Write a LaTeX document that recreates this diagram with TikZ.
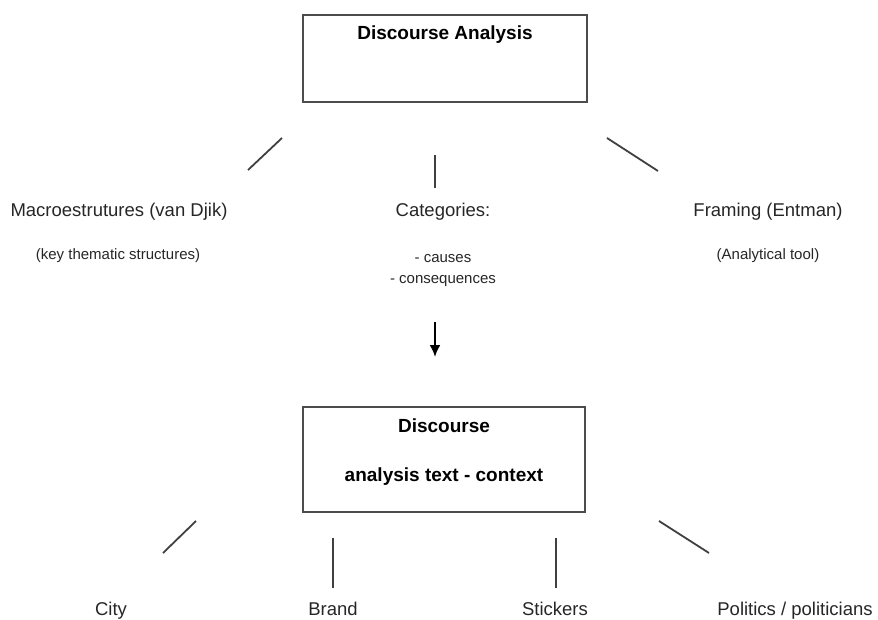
\documentclass[tikz,border=0pt]{standalone}
\usepackage{fontspec}
\setmainfont{Liberation Sans}
\usetikzlibrary{arrows.meta}
\tikzset{
  box/.style={draw=black!70, line width=1.4pt},
  lbl/.style={anchor=base, inner sep=0pt, text=black!85, font=\fontsize{18.5}{22}\selectfont},
  sml/.style={anchor=base, inner sep=0pt, text=black!85, font=\fontsize{15}{22}\selectfont},
  ttl/.style={anchor=base, inner sep=0pt, text=black, font=\fontsize{19}{22}\selectfont\bfseries},
  tick/.style={draw=black!75, line width=1.8pt},
  arr/.style={draw=black, line width=2.2pt, -{Latex[length=12pt,width=11pt]}}
}
\begin{document}
\begin{tikzpicture}[x=1pt,y=-1pt]
\useasboundingbox (0,0) rectangle (878,620);
% boxes
\draw[box] (303,15) rectangle (587,102);
\node[ttl] (t1) at (445,40) {Discourse Analysis};
\draw[box] (303,407) rectangle (585,512);
\node[ttl] (t2) at (444,432) {Discourse};
\node[ttl] (t3) at (444,481) {analysis text - context};
% middle labels
\node[lbl] (macro) at (119,217) {Macroestrutures (van Djik)};
\node[sml] (key) at (118,260) {(key thematic structures)};
\node[lbl] (cat) at (443,217) {Categories:};
\node[sml] (cau) at (443,263) {- causes};
\node[sml] (con) at (443,284) {- consequences};
\node[lbl] (fra) at (768,217) {Framing (Entman)};
\node[sml] (ana) at (768,260) {(Analytical tool)};
% bottom labels
\node[lbl] (city) at (111,615) {City};
\node[lbl] (brand) at (333,615) {Brand};
\node[lbl] (stk) at (555,615) {Stickers};
\node[lbl] (pol) at (795,615) {Politics / politicians};
% tick coordinates
\coordinate (a1) at (282,138); \coordinate (a2) at (248,170);
\coordinate (b1) at (435,155); \coordinate (b2) at (435,188);
\coordinate (c1) at (607,138); \coordinate (c2) at (658,171);
\coordinate (d1) at (435,322); \coordinate (d2) at (435,357);
\coordinate (e1) at (196,521); \coordinate (e2) at (163,553);
\coordinate (f1) at (333,538); \coordinate (f2) at (333,588);
\coordinate (g1) at (556,538); \coordinate (g2) at (556,588);
\coordinate (h1) at (659,521); \coordinate (h2) at (709,553);
\draw[tick] (a1) -- (a2);
\draw[tick] (b1) -- (b2);
\draw[tick] (c1) -- (c2);
\draw[arr] (d1) -- (d2);
\draw[tick] (e1) -- (e2);
\draw[tick] (f1) -- (f2);
\draw[tick] (g1) -- (g2);
\draw[tick] (h1) -- (h2);
\end{tikzpicture}
\end{document}
